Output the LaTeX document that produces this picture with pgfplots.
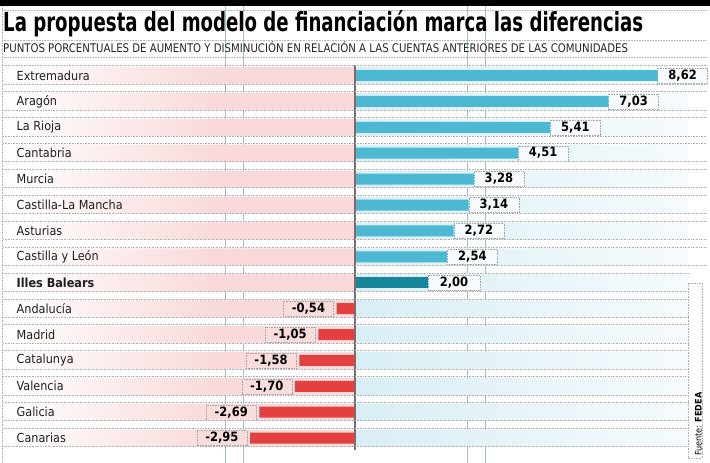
\documentclass[border=0pt]{standalone}
\usepackage{pgfplots}
\pgfplotsset{compat=1.18}
\usepackage{pgfplotstable}
\usepackage{fontspec}
\setmainfont{DejaVu Sans Condensed}
\newfontfamily\cond{DejaVu Sans Condensed}
\definecolor{posbar}{HTML}{4CB8D2}
\definecolor{balbar}{HTML}{16879A}
\definecolor{negbar}{HTML}{E4403F}
\definecolor{bandpink}{HTML}{F9D9D9}
\definecolor{bandblue}{HTML}{D8EEF5}
\definecolor{bandblueend}{HTML}{F6FBFD}
\definecolor{boxwhite}{HTML}{F7FBFD}
\definecolor{boxpink}{HTML}{F9DDDD}
\definecolor{guide}{HTML}{9CC3D3}
\definecolor{zeroline}{HTML}{707070}
\pgfdeclarehorizontalshading{pinkfade}{100bp}{color(0bp)=(white); color(25bp)=(white); color(55bp)=(bandpink); color(100bp)=(bandpink)}
\newcommand\rowfont{\cond\fontsize{12.5}{14}\selectfont}
\newcommand\vlabfont{\cond\bfseries\fontsize{12.8}{14}\selectfont}
\tikzset{rowdot/.style={gray!60, line width=0.5pt, dash pattern=on 0.8pt off 0.8pt},
  valbox/.style={font=\vlabfont, draw=gray!70, dash pattern=on 0.8pt off 0.8pt, minimum width=50pt, minimum height=15pt, inner sep=0pt, text=black}}

\pgfplotstableread{
y x lab
0 8.62 8,62
}\toptab
\pgfplotstableread{
y x lab
1 7.03 7,03
2 5.41 5,41
3 4.51 4,51
4 3.28 3,28
5 3.14 3,14
6 2.72 2,72
7 2.54 2,54
}\postab
\pgfplotstableread{
y x lab
8 2.00 2,00
}\baltab
\pgfplotstableread{
y x lab
9 -0.54 -0,54
10 -1.05 -1,05
11 -1.58 -1,58
12 -1.70 -1,70
13 -2.69 -2,69
14 -2.95 -2,95
}\negtab

\begin{document}
\begin{tikzpicture}
\fill[white] (0,0) rectangle (710pt,463pt);
\foreach \gx in {225,243,467,485} \draw[guide, line width=0.7pt] (\gx pt,0) -- (\gx pt,457pt);
\draw[rowdot] (2pt,0) -- (2pt,457pt);
\begin{axis}[
  at={(0,0)}, anchor=south west,
  scale only axis, width=710pt, height=463pt,
  xmin=-9.916, xmax=9.861, ymin=-2.915, ymax=14.961, y dir=reverse,
  axis line style={draw=none}, tick style={draw=none}, clip=false, axis on top,
  xtick=\empty, ytick={0,...,14},
  yticklabels={Extremadura, Aragón, La Rioja, Cantabria, Murcia, Castilla-La Mancha, Asturias, Castilla y León, {\bfseries Illes Balears}, Andalucía, Madrid, Catalunya, Valencia, Galicia, Canarias},
  major tick length=0pt,
  yticklabel style={anchor=west, inner sep=0pt, xshift=16.5pt, font=\rowfont, text=black!88},
]
% background bands
\addplot[xbar, bar shift=0pt, bar width=17pt, draw=none, shading=pinkfade, shade]
  coordinates {(-9.69,0) (-9.69,1) (-9.69,2) (-9.69,3) (-9.69,4) (-9.69,5) (-9.69,6) (-9.69,7) (-9.69,8) (-9.69,9) (-9.69,10) (-9.69,11) (-9.69,12) (-9.69,13) (-9.69,14)};
\addplot[xbar, bar shift=0pt, bar width=17pt, draw=none, left color=bandblue, right color=bandblueend]
  coordinates {(9.248,0) (9.248,1) (9.248,2) (9.248,3) (9.248,4) (9.248,5) (9.248,6) (9.248,7) (9.248,8) (9.248,9) (9.248,10) (9.248,11) (9.248,12) (9.248,13) (9.248,14)};
% data bars
\addplot[xbar, bar shift=0pt, bar width=11pt, fill=posbar, draw=none,
  point meta=explicit symbolic, nodes near coords, nodes near coords align={horizontal},
  every node near coord/.append style={valbox, anchor=west, xshift=-8pt, fill=boxwhite}]
  table[x=x, y=y, meta=lab] {\toptab};
\addplot[xbar, bar shift=0pt, bar width=11pt, fill=posbar, draw=none,
  point meta=explicit symbolic, nodes near coords, nodes near coords align={horizontal},
  every node near coord/.append style={valbox, anchor=west, fill=boxwhite}]
  table[x=x, y=y, meta=lab] {\postab};
\addplot[xbar, bar shift=0pt, bar width=11pt, fill=balbar, draw=none,
  point meta=explicit symbolic, nodes near coords, nodes near coords align={horizontal},
  every node near coord/.append style={valbox, anchor=west, minimum width=52pt, fill=boxwhite}]
  table[x=x, y=y, meta=lab] {\baltab};
\addplot[xbar, bar shift=0pt, bar width=11pt, fill=negbar, draw=none,
  point meta=explicit symbolic, nodes near coords, nodes near coords align={horizontal},
  every node near coord/.append style={valbox, anchor=east, xshift=-3pt, fill=boxpink}]
  table[x=x, y=y, meta=lab] {\negtab};
\draw[zeroline, line width=2pt] (axis cs:-0.028,-0.405) -- (axis cs:-0.028,14.46);
\end{axis}
% row separators
\foreach \i in {0,...,14}{
  \pgfmathsetmacro\ya{463-(75.5+25.9*\i)+9.8}
  \pgfmathsetmacro\yb{463-(75.5+25.9*\i)-8.5}
  \ifnum\i<8 \def\xr{707}\else\def\xr{688}\fi
  \draw[rowdot] (3pt,\ya pt) -- (\xr pt,\ya pt);
  \draw[rowdot] (3pt,\yb pt) -- (\xr pt,\yb pt);
}
% header
\fill[black] (0,457pt) rectangle (710pt,463pt);
\draw[rowdot] (2pt,453pt) -- (707pt,453pt);
\draw[rowdot] (2pt,423pt) -- (707pt,423pt);
\draw[rowdot] (2pt,406pt) -- (707pt,406pt);
\node[anchor=base west, inner sep=0pt] at (3pt,431pt)
  {\resizebox{640pt}{21pt}{\cond\bfseries La propuesta del modelo de financiación marca las diferencias}};
\node[anchor=base west, inner sep=0pt, text=black!85] at (3pt,410pt)
  {\resizebox{625pt}{11pt}{\cond PUNTOS PORCENTUALES DE AUMENTO Y DISMINUCIÓN EN RELACIÓN A LAS CUENTAS ANTERIORES DE LAS COMUNIDADES}};
% source
\draw[rowdot] (688pt,5pt) rectangle (702pt,180pt);
\node[rotate=90, anchor=west, inner sep=0pt, font=\cond\fontsize{9}{10}\selectfont] at (698.5pt,7pt) {Fuente: \textbf{FEDEA}};
\pgfresetboundingbox
\useasboundingbox (0,0) rectangle (710pt,463pt);
\end{tikzpicture}
\end{document}
